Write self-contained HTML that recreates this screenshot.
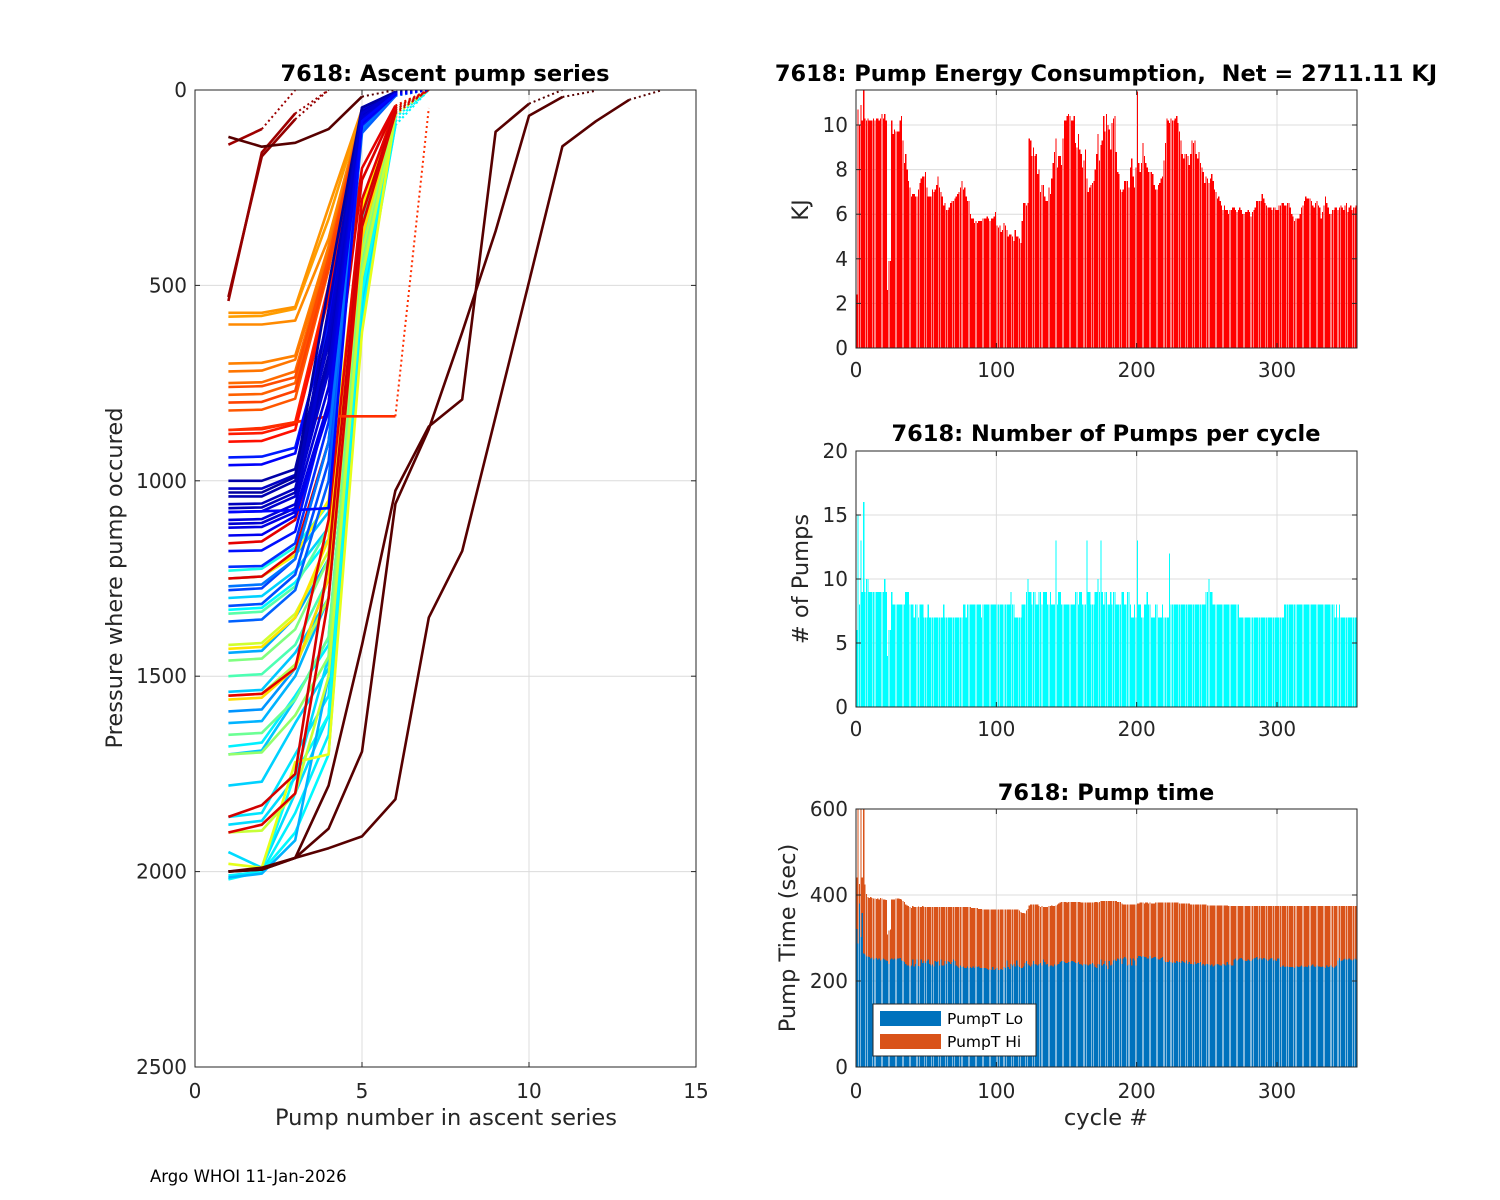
<!DOCTYPE html>
<html><head><meta charset="utf-8"><title>7618 pump plots</title>
<style>
html,body{margin:0;padding:0;background:#fff;}
svg{display:block;font-family:"DejaVu Sans","Liberation Sans",sans-serif;}
.tick{font-size:20px;fill:#262626;}
.title{font-size:22.5px;font-weight:bold;fill:#000;white-space:pre;}
.lab{font-size:22.5px;fill:#262626;}
</style></head>
<body>
<svg id="fig" width="1500" height="1200" viewBox="0 0 1500 1200" xmlns="http://www.w3.org/2000/svg">
<rect x="0" y="0" width="1500" height="1200" fill="#fff"/>
<defs>
<clipPath id="clipL"><rect x="195" y="90" width="501" height="977"/></clipPath>
<clipPath id="clipE"><rect x="856" y="90" width="501" height="258"/></clipPath>
<clipPath id="clipN"><rect x="856" y="451" width="501" height="256"/></clipPath>
<clipPath id="clipT"><rect x="856" y="809" width="501" height="258"/></clipPath>
</defs>
<g id="panelL"></g>
<g id="panelE"></g>
<g id="panelN"></g>
<g id="panelT"></g>
<text x="445" y="81" text-anchor="middle" class="title">7618: Ascent pump series</text>
<text x="1106" y="81" text-anchor="middle" class="title">7618: Pump Energy Consumption,&#160; Net = 2711.11 KJ</text>
<text x="1106" y="441" text-anchor="middle" class="title">7618: Number of Pumps per cycle</text>
<text x="1106" y="800" text-anchor="middle" class="title">7618: Pump time</text>
<text x="446" y="1125" text-anchor="middle" class="lab">Pump number in ascent series</text>
<text transform="translate(122,578) rotate(-90)" text-anchor="middle" class="lab">Pressure where pump occured</text>
<text transform="translate(808,210) rotate(-90)" text-anchor="middle" class="lab">KJ</text>
<text transform="translate(808,579) rotate(-90)" text-anchor="middle" class="lab"># of Pumps</text>
<text transform="translate(795,938) rotate(-90)" text-anchor="middle" class="lab">Pump Time (sec)</text>
<text x="1106" y="1125" text-anchor="middle" class="lab">cycle #</text>
<text x="150" y="1182" font-size="16.5" fill="#000">Argo WHOI 11-Jan-2026</text>
</svg>
<script>
// ---------- Data ----------
const profileCycle = [0.27,0.3,0.32,0.33,0.35,0.36,0.37,0.34,0.38,0.31,0.29,0.33,0.36,0.4,0.3,0.34,0.37,0.32,
 0.45,0.5,0.55,0.48,0.52,0.58,0.46,0.6,0.57,0.65,0.66,0.64,
 0.9,0.91,0.9,0.92,0.91,
 0.72,0.73,0.74,0.75,0.76,0.77,0.78,0.79,0.8,0.81,0.84,0.85,0.86,0.83,
 0.17,0.19,0.2,0.22,0.24,0.14,0.15,
 0.05,0.06,0.07,0.08,0.09,0.04,0.1,0.11,0.12,0.03,0.06,0.08,0.13,
 0.97,0.98,0.97,1.04,1.04,1.04,1.04];
const profilePressure = [
 [1590,1585,1480,1250,400,60,0],[1620,1615,1500,1300,420,60,0],[1700,1690,1560,1400,460,70,0],
 [1780,1770,1620,1480,500,70,0],[1860,1850,1700,1550,520,80,0],[2010,2000,1850,1650,560,90,0],
 [2020,2000,1900,1700,580,90,0],[1950,1990,1800,1600,540,80,0],[2000,1995,1750,1600,520,80,0],
 [1250,1245,1190,1080,330,50,0],[1440,1435,1350,1200,380,55,0],[1300,1295,1230,1120,340,50,0],
 [1680,1670,1550,1420,470,70,0],[1230,1225,1170,1060,320,45,0],[2015,2005,1920,1500,450,60,0],
 [1880,1870,1760,1450,430,60,0],[1330,1325,1260,1150,350,50,0],[1540,1535,1440,1300,420,60,0],
 [1500,1495,1420,1250,400,60,0],[1460,1455,1380,1200,380,55,0],[1550,1545,1470,1300,420,60,0],
 [1650,1645,1560,1400,450,65,0],[1700,1695,1600,1450,460,65,0],[1420,1415,1340,1180,370,55,0],
 [1340,1335,1270,1120,350,50,0],[1980,1990,1720,1700,620,60,0],[1900,1895,1800,1500,480,65,0],
 [1430,1425,1350,1150,320,45,0],[1560,1555,1480,1250,380,50,0],[1250,1245,1190,1050,300,40,0],
 [1160,1155,1100,800,200,40,0],[1250,1245,1180,900,230,45,0],[1550,1545,1480,1100,280,50,0],
 [1860,1830,1750,1200,320,55,0],[1900,1880,1800,1300,350,60,0],
 [580,578,560,330,55,8,0],[570,570,555,300,50,5,0],[600,600,590,380,60,8,0],[700,698,680,400,60,8,0],
 [720,718,690,410,60,8,0],[750,748,720,420,62,8,0],[780,778,750,440,65,8,0],[820,818,790,460,65,8,0],
 [760,758,735,430,62,8,0],[800,798,770,450,65,8,0],[870,868,850,500,70,10,0],[880,878,855,520,70,10,0],
 [900,898,870,530,72,10,0],[870,865,850,835,835,835,46],
 [1220,1218,1160,850,90,12,0],[1280,1275,1200,900,100,15,0],[1320,1315,1240,950,100,15,0],
 [1360,1355,1280,1000,110,15,0],[1270,1265,1200,900,100,12,0],[1180,1178,1130,800,90,12,0],
 [940,938,915,600,45,5,0],
 [1040,1040,1000,680,60,8,0],[1060,1058,1020,700,65,8,0],[1020,1020,985,650,55,6,0],
 [1080,1078,1040,720,70,10,0],[1100,1098,1060,760,75,10,0],[1000,1000,970,620,50,5,0],
 [1120,1118,1080,800,80,10,0],[1140,1138,1090,820,85,12,0],[960,958,930,580,50,5,0],
 [1030,1030,990,500,45,5,0],[1070,1068,1030,560,55,8,0],[1110,1108,1070,620,60,8,0],
 [1080,1078,1075,1070,80,10,0],
 [540,160,60,0],[530,170,75,0],[140,100,0],
 [120,145,135,100,17,0],
 [2000,1995,1965,1780,1420,1025,861,792,107,35,0],
 [2000,1995,1965,1890,1693,1059,868,620,361,66,18,2],
 [2000,1990,1965,1940,1910,1815,1350,1180,836,491,144,80,25,0]];
const lTicksX = [0,5,10,15];
const lTicksY = [0,500,1000,1500,2000,2500];

const energy = [2.4,10.7,10.0,10.9,10.2,11.6,10.3,10.2,10.3,10.2,
10.2,10.2,10.3,10.2,10.3,10.3,10.2,10.3,10.5,10.3,
10.5,10.2,2.6,3.9,3.9,10.2,9.6,9.8,9.7,9.7,
9.7,10.2,10.4,9.3,8.3,8.7,8.0,7.5,7.2,6.8,
6.9,6.9,6.8,6.8,7.1,7.4,7.6,7.7,7.7,7.9,
7.2,6.8,6.8,6.8,7.1,7.0,7.1,7.3,7.7,7.2,
7.0,6.8,6.4,6.5,6.2,6.2,6.3,6.5,6.6,6.6,
6.7,6.8,6.9,7.0,7.2,7.5,7.1,7.2,6.8,6.6,
6.6,6.0,5.8,5.8,5.6,5.7,5.6,5.7,5.7,5.7,
5.8,5.8,5.8,5.9,5.8,5.7,5.8,5.8,5.9,6.1,
5.5,5.4,5.5,5.2,5.3,5.6,5.5,5.3,5.0,5.1,
5.1,5.0,4.8,5.3,5.0,5.0,4.9,4.7,5.7,6.5,
6.5,6.4,6.5,9.4,9.3,8.6,9.0,8.6,8.7,7.8,
8.0,7.0,7.3,7.3,6.8,6.6,6.6,7.2,6.9,7.6,
8.3,8.8,9.4,8.1,8.6,8.6,8.2,9.4,10.2,10.2,
10.4,10.5,10.4,10.2,10.2,10.4,9.2,9.0,9.6,8.9,
8.7,8.1,8.4,8.9,7.6,7.0,7.2,7.3,7.4,7.5,
8.0,8.7,9.6,8.4,9.1,9.3,10.4,9.7,10.5,10.0,
9.8,8.9,10.1,10.3,10.4,8.8,7.9,7.8,7.1,7.0,
7.1,7.5,7.5,7.5,7.2,8.1,8.5,7.7,7.2,8.1,
11.5,8.3,7.9,8.3,9.2,8.6,8.3,8.1,7.9,7.9,
7.9,7.8,7.3,7.1,7.1,7.3,7.4,7.6,7.7,8.4,
9.2,10.3,10.2,10.1,10.3,10.2,10.2,10.3,10.4,10.1,
9.7,9.3,8.7,8.5,8.7,8.7,8.6,8.2,8.7,9.3,
9.2,9.3,8.7,8.5,8.8,8.3,8.1,7.9,7.4,7.7,
7.6,7.4,7.6,7.8,7.5,7.1,7.0,6.7,6.8,6.6,
6.4,6.2,6.4,6.2,6.2,6.0,
6.2,6.2,6.3,6.3,6.2,6.1,6.2,6.3,6.2,6.0,
6.0,6.1,6.1,6.2,6.1,5.9,6.1,6.2,6.3,6.6,
6.6,6.6,6.6,6.9,6.7,6.5,6.4,6.3,6.3,6.3,
6.2,6.3,6.3,6.2,6.2,6.4,6.4,6.5,6.5,6.4,
6.4,6.5,6.5,6.3,6.0,5.9,5.7,5.8,5.8,5.8,
6.0,6.3,6.4,6.6,6.8,6.7,6.7,6.7,6.6,6.4,
6.3,6.5,6.6,6.4,6.3,5.8,6.1,6.4,6.8,6.5,
6.3,6.0,6.0,6.2,6.2,6.3,6.3,6.2,6.3,6.4,
6.3,6.2,6.4,6.5,6.1,6.3,6.4,6.2,6.3,6.3,6.4];
const energyTicks = [0,2,4,6,8,10];

const pumps = [6,15,8,13,9,16,9,10,10,9,
9,9,9,9,9,9,9,9,9,9,
10,9,4,6,6,9,8,8,8,8,
8,8,8,8,8,9,9,9,8,8,
8,7,8,8,7,8,8,8,7,7,
7,8,7,7,7,7,7,7,7,7,
7,7,8,7,7,7,7,7,7,7,
7,7,7,7,7,7,8,8,7,8,
8,8,8,8,8,8,8,8,8,7,
8,8,8,8,8,8,8,8,8,8,
8,8,8,8,8,8,8,8,8,8,
9,8,8,7,7,7,7,7,8,8,
8,9,10,9,9,8,9,9,8,8,
9,9,8,9,9,9,8,8,9,8,
8,8,13,8,9,9,8,8,8,8,
8,8,8,8,8,8,9,9,8,9,
9,8,8,8,13,9,9,8,8,8,
9,9,10,9,13,9,8,9,9,8,
8,9,8,9,9,8,8,8,8,9,
9,8,8,9,9,8,7,7,8,7,
13,8,8,7,7,8,8,9,8,8,
7,7,7,8,8,7,7,7,8,7,
7,7,7,12,8,8,8,8,8,8,
8,8,8,8,8,8,8,8,8,8,
8,8,8,8,8,8,8,8,8,9,
9,10,9,9,8,8,8,8,8,8,
8,8,8,8,8,8,8,8,8,8,
8,8,8,7,7,7,7,7,7,7,
7,7,7,7,7,7,7,7,7,7,
7,7,7,7,7,7,7,7,7,7,
7,7,7,7,7,8,8,8,8,8,
8,8,8,8,8,8,8,8,8,8,
8,8,8,8,8,8,8,8,8,8,
8,8,8,8,8,8,8,8,8,8,
8,7,8,7,8,7,7,7,7,7,
7,7,7,7,7,7,7];
const pumpTicks = [0,5,10,15,20];

const pumpLo = [321,287,380,302,358,264,262,257,257,256,
252,255,250,252,253,250,252,248,250,252,
250,248,246,240,250,252,250,252,250,252,
252,253,248,246,244,240,236,236,234,236,
250,234,240,250,235,234,250,242,246,242,
246,250,240,236,238,234,246,244,246,236,
250,236,236,246,240,246,244,240,244,250,
246,236,234,230,236,232,234,230,230,234,
230,232,230,234,230,234,232,234,230,230,
230,230,230,228,226,228,226,232,226,228,
230,226,226,228,226,232,230,248,232,228,
240,236,240,234,248,236,232,230,230,234,
242,246,240,236,234,238,246,240,238,236,
240,242,236,250,244,238,240,234,236,236,
234,238,236,238,240,244,246,246,244,242,
242,244,244,246,246,244,242,242,244,240,
238,236,240,238,238,236,238,240,242,238,
232,230,240,238,250,236,240,246,236,228,
246,236,238,248,250,246,252,250,252,240,
252,256,252,236,238,252,236,252,248,236,
254,258,258,256,258,256,256,252,252,258,
252,254,256,256,252,250,250,254,256,248,
244,244,244,248,244,242,244,242,246,244,
244,242,246,244,242,248,240,244,240,240,
238,244,240,242,242,244,236,240,236,240,
240,238,236,238,234,236,238,240,238,236,
236,240,238,236,244,238,238,236,236,250,
252,248,250,252,254,250,248,246,246,250,
248,246,250,252,254,256,250,252,254,250,
254,252,250,246,250,252,254,248,250,246,
252,252,232,234,236,232,234,234,232,232,
232,232,230,234,234,232,234,236,234,232,
234,232,236,234,236,238,234,232,236,234,
234,232,234,232,230,236,232,234,236,232,
230,234,236,248,254,246,248,250,252,250,
250,252,250,248,250,252,250];
const pumpHi = [120,330,46,318,83,356,162,145,138,137,
143,138,142,140,138,142,138,145,142,138,
140,140,62,78,70,138,140,138,142,140,
140,138,142,140,140,138,140,138,138,134,
124,138,132,122,138,138,122,132,126,130,
126,122,132,136,134,138,126,128,126,136,
122,136,136,126,132,126,128,132,128,122,
126,136,138,142,136,140,138,142,142,138,
142,140,140,136,140,136,138,134,138,138,
136,136,136,138,140,138,140,134,140,138,
136,140,140,138,140,134,136,118,134,138,
126,130,126,132,118,130,132,130,128,124,
115,118,128,140,144,140,132,138,140,142,
134,130,138,122,128,134,132,140,138,140,
140,136,140,140,140,138,138,138,140,142,
140,140,140,138,138,140,142,142,140,144,
144,146,142,144,144,146,144,142,140,144,
152,154,142,146,136,150,146,140,150,158,
140,150,148,138,136,140,132,134,132,140,
126,122,126,142,140,126,142,126,130,142,
126,122,124,126,124,124,126,130,128,124,
128,126,124,126,130,132,132,128,126,134,
138,138,138,134,138,140,138,140,136,138,
136,138,134,136,138,132,140,136,138,138,
140,134,138,136,136,134,142,138,142,138,
136,138,140,138,142,140,138,136,138,140,
140,136,138,140,132,136,136,138,138,124,
122,126,124,122,120,124,126,128,128,124,
126,128,124,122,120,118,124,122,120,124,
120,122,124,128,124,122,120,126,124,128,
122,122,142,140,138,142,140,140,142,142,
142,142,144,140,140,142,140,138,140,142,
140,142,138,140,138,136,140,142,138,140,
140,142,140,142,144,138,142,140,138,142,
144,140,138,126,120,128,126,124,122,124,
124,122,124,126,124,122,124];
const timeTicks = [0,200,400,600];
const cycleTicks = [0,100,200,300];
const seriesNames = ["PumpT Lo","PumpT Hi"];

// ---------- Helpers ----------
const NS = "http://www.w3.org/2000/svg";
function mk(tag, attrs, parent){
  const e = document.createElementNS(NS, tag);
  for (const k in attrs) e.setAttribute(k, attrs[k]);
  parent.appendChild(e);
  return e;
}
function jet(v){
  const cl = t => Math.max(0, Math.min(1, t));
  const r = cl(1.5 - Math.abs(4*v - 3)), g = cl(1.5 - Math.abs(4*v - 2)), b = cl(1.5 - Math.abs(4*v - 1));
  return "rgb(" + Math.round(r*255) + "," + Math.round(g*255) + "," + Math.round(b*255) + ")";
}
function axisFrame(g, x0, y0, w, h, xt, xs, yt, ys){
  xt.forEach(t => {
    const x = xs(t);
    const l = mk("line", {x1:x, y1:y0, x2:x, y2:y0+h, stroke:"#dcdcdc", "stroke-width":1}, g);
    
    
  });
  yt.forEach(t => {
    const y = ys(t);
    const l = mk("line", {x1:x0, y1:y, x2:x0+w, y2:y, stroke:"#dcdcdc", "stroke-width":1}, g);
    
    
  });
}
function axisBox(g, x0, y0, w, h, xt, xs, yt, ys, xlabY, xname, yname){
  const box = mk("rect", {x:x0, y:y0, width:w, height:h, fill:"none", stroke:"#262626", "stroke-width":1}, g);
  
  
  xt.forEach(t => {
    const x = xs(t);
    mk("line", {x1:x, y1:y0+h, x2:x, y2:y0+h-5, stroke:"#262626"}, g);
    mk("line", {x1:x, y1:y0, x2:x, y2:y0+5, stroke:"#262626"}, g);
    const tx = mk("text", {x:x, y:xlabY, "text-anchor":"middle", class:"tick"}, g);
    tx.textContent = t;
    
    
  });
  yt.forEach(t => {
    const y = ys(t);
    mk("line", {x1:x0, y1:y, x2:x0+5, y2:y, stroke:"#262626"}, g);
    mk("line", {x1:x0+w, y1:y, x2:x0+w-5, y2:y, stroke:"#262626"}, g);
    const tx = mk("text", {x:x0-8, y:y+7, "text-anchor":"end", class:"tick"}, g);
    tx.textContent = t;
    
    
  });
}

// ---------- Left panel: ascent pump series ----------
(function(){
  const g = document.getElementById("panelL");
  const x0 = 195, y0 = 90, w = 501, h = 977;
  const xs = v => x0 + v / 15 * w;
  const ys = v => y0 + v / 2500 * h;
  axisFrame(g, x0, y0, w, h, lTicksX, xs, lTicksY, ys);
  const lg = mk("g", {"clip-path":"url(#clipL)"}, g);
  profilePressure.forEach((p, i) => {
    const col = jet(profileCycle[i]);
    const n = p.length;
    let d = "";
    for (let k = 0; k < n - 1; k++) d += (k ? "L" : "M") + xs(k+1).toFixed(1) + "," + ys(p[k]).toFixed(1);
    const solid = mk("path", {d:d, fill:"none", stroke:col, "stroke-width":2.6, "stroke-linejoin":"round"}, lg);
    
    
    const dot = mk("line", {x1:xs(n-1), y1:ys(p[n-2]), x2:xs(n), y2:ys(p[n-1]), stroke:col, "stroke-width":2, "stroke-dasharray":"2,3"}, lg);
    
    
  });
  axisBox(g, x0, y0, w, h, lTicksX, xs, lTicksY, ys, 1098, 'ascent-x-tick-label', 'ascent-y-tick-label');
})();

// ---------- bar panel generic ----------
function barPanel(id, clip, y0, h, ymax, ticks, series, colors, names){
  const g = document.getElementById(id);
  const x0 = 856, w = 501, xmax = 357;
  const xs = v => x0 + v / xmax * w;
  const ys = v => y0 + h - v / ymax * h;
  axisFrame(g, x0, y0, w, h, cycleTicks, xs, ticks, ys);
  const bg = mk("g", {"clip-path":"url(#" + clip + ")", "shape-rendering":"crispEdges"}, g);
  const bw = w / xmax * 0.85;
  const n = series[0].length;
  for (let i = 0; i < n; i++){
    let base = 0;
    series.forEach((s, si) => {
      const top = base + s[i];
      const r = mk("rect", {x:(xs(i+0.5) - bw/2).toFixed(2), y:ys(top).toFixed(2), width:bw.toFixed(2), height:(ys(base) - ys(top)).toFixed(2), fill:colors[si]}, bg);
      
      
      base = top;
    });
  }
  return {g:g, xs:xs, ys:ys};
}

const pE = barPanel("panelE", "clipE", 90, 258, 11.57, energyTicks, [energy], ["#ff0000"], ["energy-bar"]);
axisBox(pE.g, 856, 90, 501, 258, cycleTicks, pE.xs, energyTicks, pE.ys, 377, 'energy-x-tick-label', 'energy-y-tick-label');
const pN = barPanel("panelN", "clipN", 451, 256, 20, pumpTicks, [pumps], ["#00ffff"], ["pumps-bar"]);
axisBox(pN.g, 856, 451, 501, 256, cycleTicks, pN.xs, pumpTicks, pN.ys, 736, 'pumps-x-tick-label', 'pumps-y-tick-label');
const pT = barPanel("panelT", "clipT", 809, 258, 600, timeTicks, [pumpLo, pumpHi], ["#0072bd", "#d95319"], ["pump-lo-bar", "pump-hi-bar"]);
axisBox(pT.g, 856, 809, 501, 258, cycleTicks, pT.xs, timeTicks, pT.ys, 1098, 'time-x-tick-label', 'time-y-tick-label');

// legend
(function(){
  const g = document.getElementById("panelT");
  const lg = mk("g", {}, g);
  
  
  mk("rect", {x:873, y:1004, width:163, height:52, fill:"#fff", stroke:"#262626", "stroke-width":1}, lg);
  const cols = ["#0072bd", "#d95319"];
  seriesNames.forEach((nm, i) => {
    const sw = mk("rect", {x:880, y:1011 + i*23, width:61, height:15, fill:cols[i]}, lg);
    
    
    const t = mk("text", {x:947, y:1024 + i*23, "font-size":15.5, fill:"#000"}, lg);
    t.textContent = nm;
    
    
  });
})();
</script>
</body></html>
